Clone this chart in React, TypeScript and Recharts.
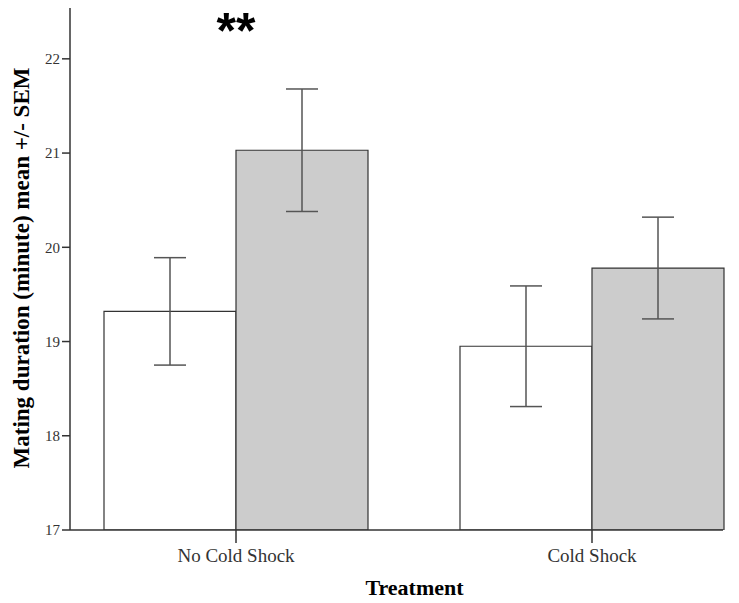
import { Bar, BarChart, ErrorBar, Label, ReferenceDot, XAxis, YAxis } from "recharts";

const categories = ["No Cold Shock", "Cold Shock"];
const whiteMeans = [19.32, 18.95];
const whiteSem = [0.57, 0.64];
const greyMeans = [21.03, 19.78];
const greySem = [0.65, 0.54];
const yTicks = [17, 18, 19, 20, 21, 22];

const data = categories.map((name, i) => ({
  name,
  white: whiteMeans[i],
  whiteErr: whiteSem[i],
  grey: greyMeans[i],
  greyErr: greySem[i],
}));

const serif = "'Liberation Serif', 'Times New Roman', serif";

export default function App() {
  return (
    <div style={{ margin: -8, width: 739, height: 603, background: "#fff" }}>
      <BarChart
        width={739}
        height={603}
        data={data}
        margin={{ top: 7, right: 16, bottom: 0, left: 0 }}
        barCategoryGap={46}
        barGap={0}
      >
        <XAxis
          dataKey="name"
          height={73}
          padding={{ left: -12, right: -47 }}
          stroke="#333"
          strokeWidth={1.5}
          tickSize={13}
          tickMargin={6}
          tick={{ fill: "#333", fontSize: 19, fontFamily: serif }}
        >
          <Label
            value="Treatment"
            position="insideBottom"
            offset={8}
            dx={18}
            style={{ fill: "#000", fontSize: 22, fontWeight: "bold", fontFamily: serif }}
          />
        </XAxis>
        <YAxis
          width={70}
          domain={[17, 22.55]}
          ticks={yTicks}
          allowDataOverflow
          stroke="#333"
          strokeWidth={1.5}
          tickSize={8}
          tick={{ fill: "#333", fontSize: 15, fontFamily: serif }}
        >
          <Label
            content={() => (
              <text
                x={29}
                y={268}
                transform="rotate(-90 29 268)"
                textAnchor="middle"
                fill="#000"
                fontSize={23}
                fontWeight="bold"
                fontFamily={serif}
              >
                Mating duration (minute) mean +/- SEM
              </text>
            )}
          />
        </YAxis>
        <Bar dataKey="white" fill="#ffffff" stroke="#333" strokeWidth={1.2} isAnimationActive={false}>
          <ErrorBar dataKey="whiteErr" width={16} stroke="#555" strokeWidth={1.5} />
        </Bar>
        <Bar dataKey="grey" fill="#cccccc" stroke="#333" strokeWidth={1.2} isAnimationActive={false}>
          <ErrorBar dataKey="greyErr" width={16} stroke="#555" strokeWidth={1.5} />
        </Bar>
        <ReferenceDot x="No Cold Shock" y={22.36} r={0} fill="none" stroke="none">
          <Label
            value="**"
            position="center"
            dy={5}
            style={{ fill: "#000", fontSize: 50, fontWeight: "bold", fontFamily: "'Liberation Sans', Arial, sans-serif" }}
          />
        </ReferenceDot>
      </BarChart>
    </div>
  );
}
